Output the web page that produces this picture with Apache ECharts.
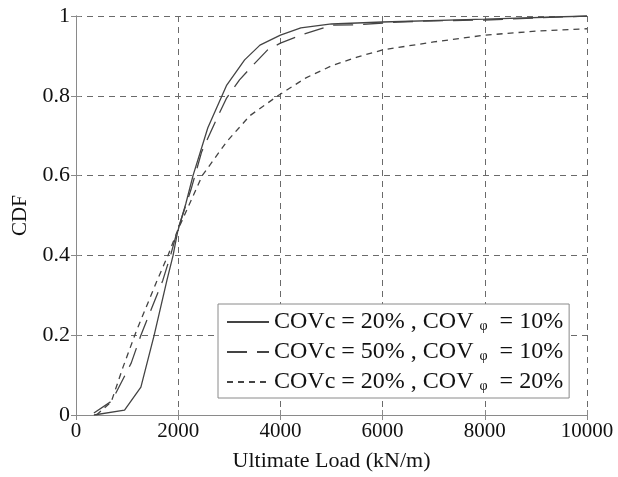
<!DOCTYPE html>
<html>
<head>
<meta charset="utf-8">
<script src="https://cdn.jsdelivr.net/npm/echarts@6/dist/echarts.min.js"></script>
<style>html,body{margin:0;padding:0;background:#fff}#c{width:618px;height:477px}</style>
</head>
<body>
<div id="c"></div>
<script>
// Data
const s1x = [350, 950, 1270, 1530, 1780, 1900, 1990, 2150, 2290, 2580, 2950, 3300, 3600, 4000, 4400, 5000, 6000, 8000, 10000];
const s1y = [0, 0.012, 0.07, 0.2, 0.338, 0.4, 0.46, 0.53, 0.6, 0.72, 0.827, 0.89, 0.927, 0.952, 0.97, 0.98, 0.985, 0.992, 1.0];
const s2x = [350, 700, 1080, 1270, 1700, 1850, 1980, 2250, 2460, 2800, 2950, 3200, 3450, 3750, 4000, 4400, 5000, 5500, 6300, 7000, 8000, 9000, 10000];
const s2y = [0.005, 0.035, 0.13, 0.2, 0.338, 0.4, 0.46, 0.565, 0.66, 0.755, 0.795, 0.84, 0.875, 0.915, 0.932, 0.952, 0.977, 0.978, 0.985, 0.988, 0.99, 0.995, 1.0];
const s3x = [400, 690, 920, 1180, 1590, 1800, 1980, 2470, 2950, 3400, 3950, 4500, 5000, 5500, 6000, 7000, 8000, 9000, 10000];
const s3y = [0, 0.033, 0.12, 0.21, 0.338, 0.4, 0.46, 0.6, 0.685, 0.75, 0.8, 0.845, 0.875, 0.897, 0.915, 0.935, 0.952, 0.962, 0.968];
const seriesNames = ['s1', 's2', 's3'];
const legendParts = [['20%', '10%'], ['50%', '10%'], ['20%', '20%']];

const FONT = 'Liberation Serif';
const pair = (xs, ys) => xs.map((x, i) => [x, ys[i]]);
const chart = echarts.init(document.getElementById('c'));
const lineColor = '#444';
const axisCol = '#8a8a8a';
const gridLine = {show: true, lineStyle: {color: '#6a6a6a', type: [6, 5], width: 1}};
const tick = {show: true, inside: true, length: 5, lineStyle: {color: axisCol}};
chart.setOption({
  animation: false,
  backgroundColor: '#fff',
  grid: {left: 76, right: 31, top: 16, bottom: 62},
  xAxis: [{
    type: 'value', min: 0, max: 10000, interval: 2000,
    name: 'Ultimate Load (kN/m)', nameLocation: 'middle', nameGap: 35,
    nameTextStyle: {fontFamily: FONT, fontSize: 22, color: '#111'},
    axisLine: {show: true, lineStyle: {color: axisCol}},
    axisTick: tick,
    axisLabel: {fontFamily: FONT, fontSize: 21, color: '#111', margin: 6, formatter: v => String(v)},
    splitLine: gridLine
  }, {
    type: 'value', position: 'top', min: 0, max: 10000, interval: 2000,
    axisLine: {show: true, lineStyle: {color: axisCol}},
    axisTick: tick, axisLabel: {show: false}, splitLine: {show: false}
  }],
  yAxis: [{
    type: 'value', min: 0, max: 1, interval: 0.2,
    name: 'CDF', nameLocation: 'middle', nameGap: 45, nameRotate: 90,
    nameTextStyle: {fontFamily: FONT, fontSize: 21, color: '#111'},
    axisLine: {show: true, lineStyle: {color: axisCol}},
    axisTick: tick,
    axisLabel: {fontFamily: FONT, fontSize: 22, color: '#111', margin: 6,
      formatter: v => String(+v.toFixed(1))},
    splitLine: gridLine
  }, {
    type: 'value', position: 'right', min: 0, max: 1, interval: 0.2,
    axisLine: {show: true, lineStyle: {color: axisCol}},
    axisTick: tick, axisLabel: {show: false}, splitLine: {show: false}
  }],
  legend: {
    orient: 'vertical', left: 218, top: 304,
    backgroundColor: '#fff', borderColor: axisCol, borderWidth: 1,
    padding: [6, 6, 4, 8], itemGap: 6, itemWidth: 42, itemHeight: 14,
    itemStyle: {opacity: 0, borderWidth: 0},
    data: seriesNames,
    formatter: name => {
      const p = legendParts[seriesNames.indexOf(name)];
      return '{t|COVc = ' + p[0] + ' , COV }{s|φ}{t|  = ' + p[1] + '}';
    },
    textStyle: {
      padding: [0, 0, 0, 0],
      rich: {
        t: {fontFamily: FONT, fontSize: 24, color: '#111', lineHeight: 24},
        s: {fontFamily: FONT, fontSize: 14, color: '#111', padding: [9, 0, 0, 0], lineHeight: 24}
      }
    }
  },
  series: [
    {name: seriesNames[0], type: 'line', showSymbol: false, symbol: 'none', data: pair(s1x, s1y),
     lineStyle: {color: lineColor, width: 1.3, type: 'solid'}, itemStyle: {color: lineColor}},
    {name: seriesNames[1], type: 'line', showSymbol: false, symbol: 'none', data: pair(s2x, s2y),
     lineStyle: {color: lineColor, width: 1.3, type: [20, 10]}, itemStyle: {color: lineColor}},
    {name: seriesNames[2], type: 'line', showSymbol: false, symbol: 'none', data: pair(s3x, s3y),
     lineStyle: {color: lineColor, width: 1.3, type: [6, 5]}, itemStyle: {color: lineColor}}
  ]
});
</script>
</body>
</html>
